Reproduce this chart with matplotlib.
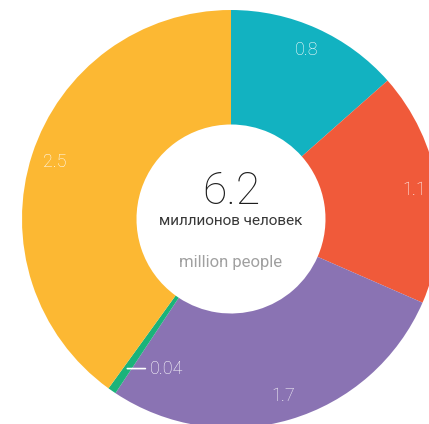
import numpy as np
import matplotlib.pyplot as plt

# значения сегментов (млн человек), по часовой стрелке от верха
values = [0.835, 1.12, 1.72, 0.04, 2.48]
labels = ['0.8', '1.1', '1.7', '0.04', '2.5']
colors = ['#12b2c1', '#f05a3a', '#8a73b3', '#1bb37a', '#fcb833']
total_label = '6.2'

plt.rcParams['font.family'] = ['Roboto', 'DejaVu Sans']

fig = plt.figure(figsize=(4.29, 4.24), dpi=100)
ax = fig.add_axes([0, 0, 1, 1])

cx, cy, r_out, r_in = 231, 205, 209, 94.5
wedges, _ = ax.pie(values, colors=colors, startangle=90, counterclock=False,
                   radius=r_out, center=(cx, cy), frame=True,
                   wedgeprops=dict(width=r_out - r_in, linewidth=0))
ax.set_xlim(0, 429)
ax.set_ylim(0, 424)
ax.set_aspect('equal')
ax.axis('off')

# подписи сегментов
for w, lab in zip(wedges, labels):
    ang = np.deg2rad((w.theta1 + w.theta2) / 2)
    if lab == '0.04':
        px, py = cx + 182 * np.cos(ang), cy + 182 * np.sin(ang)
        ax.annotate(lab, xy=(px, py), xytext=(16, 0), textcoords='offset points',
                    ha='left', va='center', color='white', fontsize=13,
                    fontweight='light',
                    arrowprops=dict(arrowstyle='-', color='white', lw=1.2,
                                    shrinkA=1, shrinkB=0))
        continue
    x, y = cx + 185 * np.cos(ang), cy + 185 * np.sin(ang)
    ax.text(x, y, lab, ha='center', va='center', color='white',
            fontsize=13, fontweight='light')

ax.text(cx, cy + 27, total_label, ha='center', va='center', fontsize=32,
        color='#1e1e1e', fontweight='light')
ax.text(cx, cy - 2, 'миллионов человек', ha='center', va='center',
        fontsize=11, color='#383838')
ax.text(cx, cy - 44, 'million people', ha='center', va='center',
        fontsize=12, color='#a0a0a0')

plt.savefig('out.png', dpi=100)
